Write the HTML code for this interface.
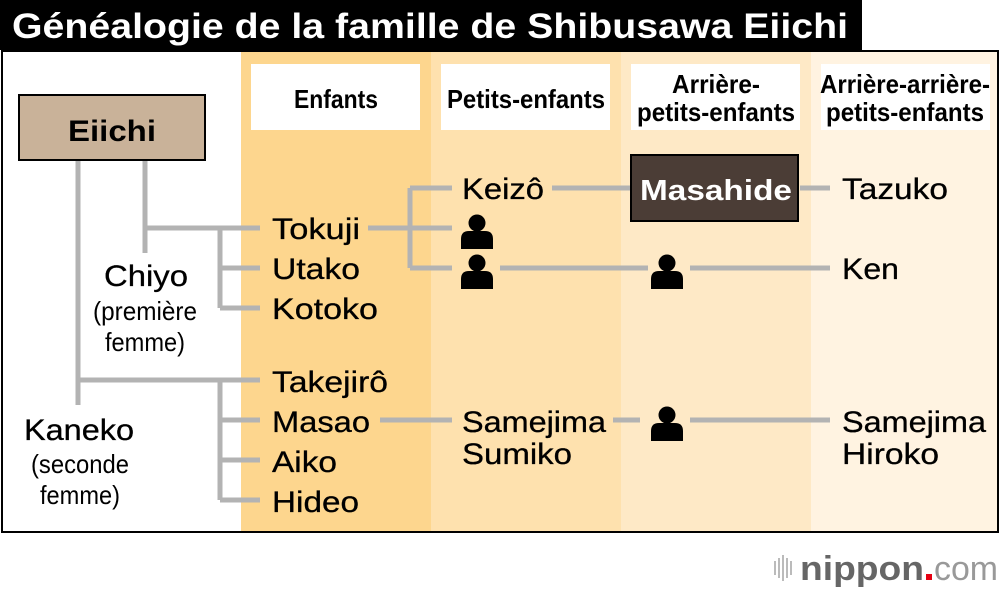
<!DOCTYPE html>
<html><head><meta charset="utf-8"><style>
body{margin:0;background:#fff;width:1000px;height:592px;overflow:hidden}
svg{display:block}
text{font-family:"Liberation Sans",sans-serif}
.n{font-size:30px;fill:#000;stroke:#000;stroke-width:0.3}
.c{font-family:"Liberation Sans",sans-serif;font-size:26px}
</style></head><body>
<svg width="1000" height="592" viewBox="0 0 1000 592">
<defs>
<g id="p"><circle cx="0" cy="-9" r="8.5" fill="#000"/><path d="M-16 17 V7 Q-16 -1 -8 -1 H8 Q16 -1 16 7 V17 Z" fill="#000"/></g>
</defs>
<rect x="0" y="0" width="862" height="50" fill="#000"/>
<text x="12" y="38" font-size="35" font-weight="bold" fill="#fff" textLength="836" lengthAdjust="spacingAndGlyphs">Généalogie de la famille de Shibusawa Eiichi</text>
<rect x="2" y="51" width="996" height="481" fill="#fff" stroke="#000" stroke-width="2"/>
<rect x="241" y="52" width="190" height="479" fill="#fdd68e"/>
<rect x="431" y="52" width="190" height="479" fill="#fee1ae"/>
<rect x="621" y="52" width="190" height="479" fill="#fee9c6"/>
<rect x="811" y="52" width="186" height="479" fill="#fff3e1"/>
<rect x="251" y="64" width="169" height="66" fill="#fff"/>
<rect x="441" y="64" width="169" height="66" fill="#fff"/>
<rect x="631" y="64" width="169" height="66" fill="#fff"/>
<rect x="821" y="64" width="169" height="66" fill="#fff"/>
<g class="c" font-weight="bold" text-anchor="middle" style="font-size:26px">
<text x="336" y="108" textLength="84" lengthAdjust="spacingAndGlyphs">Enfants</text>
<text x="526" y="108" textLength="158" lengthAdjust="spacingAndGlyphs">Petits-enfants</text>
<text x="716" y="93" textLength="88" lengthAdjust="spacingAndGlyphs">Arrière-</text>
<text x="716" y="121" textLength="158" lengthAdjust="spacingAndGlyphs">petits-enfants</text>
<text x="905" y="93" textLength="170" lengthAdjust="spacingAndGlyphs">Arrière-arrière-</text>
<text x="905" y="121" textLength="158" lengthAdjust="spacingAndGlyphs">petits-enfants</text>
</g>
<g stroke="#b3b3b3" stroke-width="5" fill="none">
<path d="M78 160 V405 M78 380 H260 M220 380 V500 M220 420 H260 M220 460 H260 M220 500 H260"/>
<path d="M145 160 V253 M145 228 H260 M220 228 V308 M220 268 H260 M220 308 H260"/>
<path d="M368 228 H452 M410 188 V268 M410 188 H452 M410 268 H452"/>
<path d="M500 268 H648 M690 268 H830 M552 188 H630 M800 188 H830"/>
<path d="M380 420 H452 M613 420 H640 M690 420 H830"/>
</g>
<rect x="19" y="95" width="186" height="65" fill="#c9b299" stroke="#000" stroke-width="2"/>
<text x="112" y="141" text-anchor="middle" font-size="30" font-weight="bold" textLength="88" lengthAdjust="spacingAndGlyphs">Eiichi</text>
<rect x="631" y="155" width="167" height="66" fill="#4b3d36" stroke="#000" stroke-width="2"/>
<text x="716" y="200" text-anchor="middle" font-size="29" font-weight="bold" fill="#fff" textLength="152" lengthAdjust="spacingAndGlyphs">Masahide</text>
<g class="n">
<text x="104" y="286" textLength="84" lengthAdjust="spacingAndGlyphs">Chiyo</text>
<text x="24" y="440" textLength="110" lengthAdjust="spacingAndGlyphs">Kaneko</text>
<text x="272" y="239" textLength="88" lengthAdjust="spacingAndGlyphs">Tokuji</text>
<text x="272" y="279" textLength="88" lengthAdjust="spacingAndGlyphs">Utako</text>
<text x="272" y="319" textLength="106" lengthAdjust="spacingAndGlyphs">Kotoko</text>
<text x="272" y="392" textLength="116" lengthAdjust="spacingAndGlyphs">Takejirô</text>
<text x="272" y="432" textLength="98" lengthAdjust="spacingAndGlyphs">Masao</text>
<text x="272" y="472" textLength="65" lengthAdjust="spacingAndGlyphs">Aiko</text>
<text x="272" y="512" textLength="87" lengthAdjust="spacingAndGlyphs">Hideo</text>
<text x="462" y="199" textLength="82" lengthAdjust="spacingAndGlyphs">Keizô</text>
<text x="462" y="432" textLength="144" lengthAdjust="spacingAndGlyphs">Samejima</text>
<text x="462" y="464" textLength="110" lengthAdjust="spacingAndGlyphs">Sumiko</text>
<text x="842" y="199" textLength="106" lengthAdjust="spacingAndGlyphs">Tazuko</text>
<text x="842" y="279" textLength="57" lengthAdjust="spacingAndGlyphs">Ken</text>
<text x="842" y="432" textLength="144" lengthAdjust="spacingAndGlyphs">Samejima</text>
<text x="842" y="464" textLength="97" lengthAdjust="spacingAndGlyphs">Hiroko</text>
</g>
<g class="c" text-anchor="middle">
<text x="145" y="320" textLength="104" lengthAdjust="spacingAndGlyphs">(première</text>
<text x="145" y="351" textLength="80" lengthAdjust="spacingAndGlyphs">femme)</text>
<text x="80" y="473" textLength="98" lengthAdjust="spacingAndGlyphs">(seconde</text>
<text x="80" y="504" textLength="80" lengthAdjust="spacingAndGlyphs">femme)</text>
</g>
<use href="#p" x="477" y="232"/>
<use href="#p" x="477" y="272"/>
<use href="#p" x="667" y="272"/>
<use href="#p" x="667" y="424"/>
<g fill="#bbb">
<rect x="774" y="561" width="2" height="14"/><rect x="778" y="558" width="2" height="20"/><rect x="782" y="555" width="2" height="26"/><rect x="786" y="558" width="2" height="20"/><rect x="790" y="561" width="2" height="14"/>
</g>
<text x="800" y="580" font-size="34" font-weight="bold" fill="#666" textLength="124" lengthAdjust="spacingAndGlyphs">nippon</text>
<rect x="926" y="574" width="6" height="6" fill="#e60012"/>
<text x="934" y="580" font-size="34" fill="#999" textLength="64" lengthAdjust="spacingAndGlyphs">com</text>
</svg>
</body></html>
